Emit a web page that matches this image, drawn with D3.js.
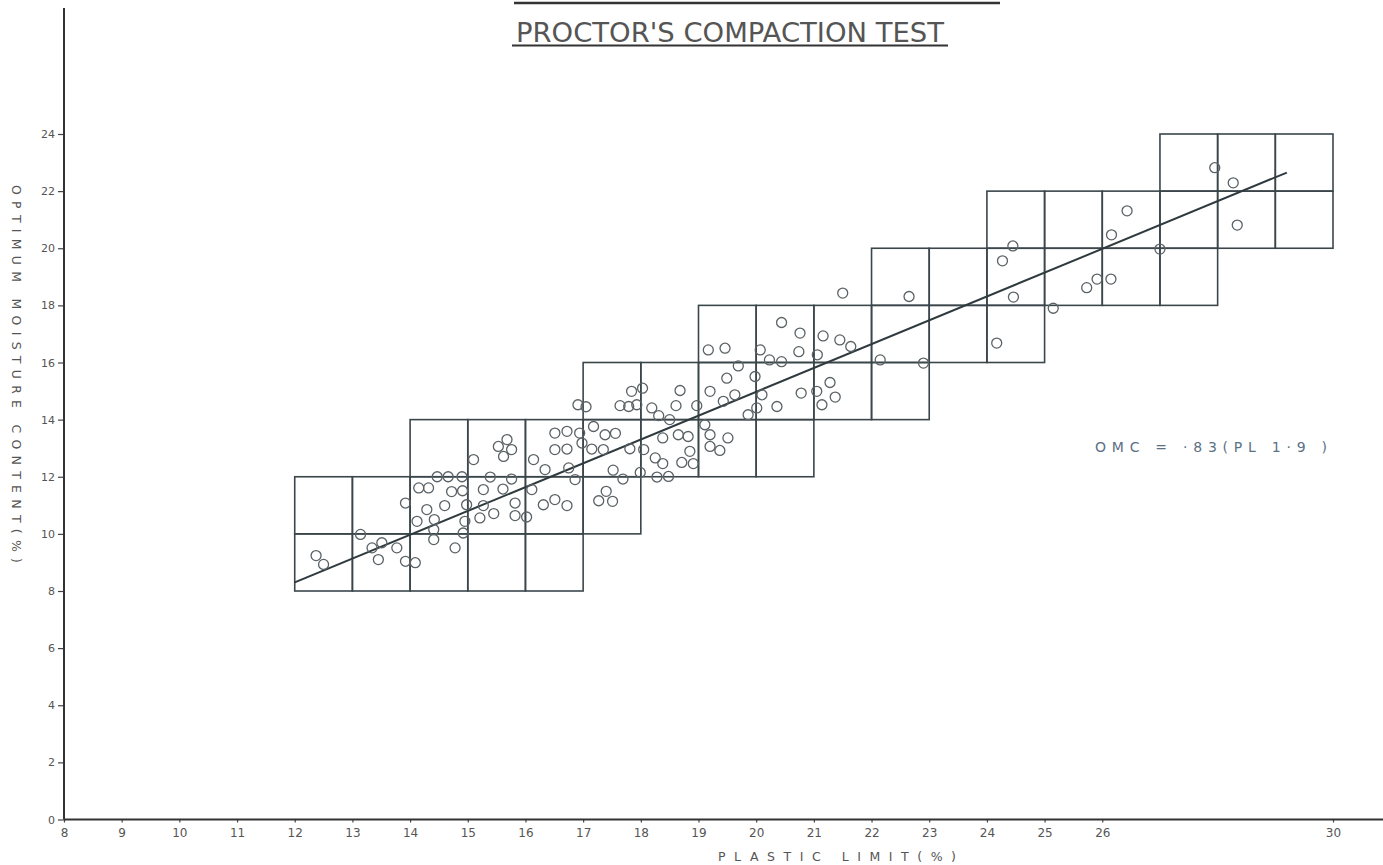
<!DOCTYPE html>
<html>
<head>
<meta charset="utf-8">
<script src="https://cdn.jsdelivr.net/npm/d3@7"></script>
<style>
  html, body { margin: 0; padding: 0; background: #fff; }
  svg { display: block; }
</style>
</head>
<body>
<svg id="chart"></svg>
<script>
// grid columns (plastic limit, 1 unit wide) and the OMC span each one covers
const colPL   = [12, 13, 14, 15, 16, 17, 18, 19, 20, 21, 22, 23, 24, 25, 26, 27, 28, 29];
const colLow  = [ 8,  8,  8,  8,  8, 10, 12, 12, 12, 14, 14, 16, 16, 18, 18, 18, 20, 20];
const colHigh = [12, 12, 14, 14, 14, 16, 16, 18, 18, 18, 20, 20, 22, 22, 22, 24, 24, 24];

// test results: plastic limit (%) and optimum moisture content (%)
const plValues = [
  12.37,12.50,13.14,13.34,13.51,13.45,13.77,13.92,14.09,14.12,13.92,14.15,14.32,14.29,14.42,14.41,14.41,14.47,14.66,14.90,
  14.60,14.72,14.91,14.98,14.95,14.92,14.78,
  15.10,15.39,15.27,15.27,15.21,15.45,15.53,15.68,15.76,15.62,15.76,15.61,15.82,15.82,16.02,16.14,16.11,16.34,16.31,16.51,
  16.72,16.75,16.86,16.51,16.72,16.51,16.72,16.94,16.98,16.91,17.05,17.18,17.38,17.56,17.15,17.35,17.81,17.52,17.69,17.40,
  17.51,17.27,17.64,17.79,17.84,
  18.03,17.93,18.19,18.31,18.50,18.38,17.99,18.25,18.38,18.28,18.48,18.05,18.65,18.82,18.85,18.71,18.91,18.68,18.61,18.97,
  19.11,19.20,19.20,19.37,19.51,19.17,19.46,19.69,19.49,19.98,19.20,19.63,19.43,20.10,20.01,19.86,20.36,20.07,20.23,20.44,
  20.44,20.76,20.74,21.06,21.16,21.45,21.64,21.50,20.78,21.05,21.28,21.37,21.14,
  22.15,22.90,22.65,24.17,24.46,24.27,24.45,25.15,25.73,25.91,26.15,26.16,26.43,27.00,27.95,28.27,28.34
];
const omcValues = [
  9.24,8.93,9.98,9.51,9.69,9.10,9.51,9.04,8.99,10.44,11.08,11.61,11.61,10.85,10.50,10.15,9.80,12.00,12.00,12.00,
  10.99,11.48,11.51,11.02,10.44,10.03,9.51,
  12.60,11.99,11.55,10.99,10.56,10.71,13.06,13.30,12.95,12.71,11.92,11.57,11.08,10.64,10.59,12.60,11.55,12.25,11.02,11.20,
  10.99,12.31,11.90,13.53,13.59,12.95,12.97,13.53,13.18,14.52,14.45,13.76,13.47,13.52,12.97,12.95,12.98,12.23,11.92,11.49,
  11.14,11.16,14.49,14.46,14.99,
  15.10,14.52,14.41,14.14,14.00,13.36,12.15,12.66,12.46,11.99,12.01,12.95,13.47,13.41,12.89,12.50,12.46,15.02,14.49,14.49,
  13.82,13.47,13.06,12.92,13.36,16.44,16.50,15.88,15.45,15.51,14.99,14.87,14.64,14.87,14.41,14.17,14.46,16.44,16.09,16.03,
  17.40,17.03,16.38,16.27,16.93,16.79,16.56,18.43,14.93,14.99,15.30,14.79,14.52,
  16.09,15.98,18.31,16.68,18.29,19.56,20.08,17.90,18.62,18.92,18.92,20.47,21.31,19.97,22.82,22.29,20.81
];

// fitted line end points, OMC = .83(PL - 1.9)
const fitPL  = [12, 29.2];
const fitOMC = [8.3, 22.65];

const xTickValues = [8,9,10,11,12,13,14,15,16,17,18,19,20,21,22,23,24,25,26,30];
const yTickValues = [0,2,4,6,8,10,12,14,16,18,20,22,24];

const W = 1383, H = 865;
const svg = d3.select('#chart').attr('width', W).attr('height', H)
  .style('background', '#fff');

const x = d3.scaleLinear().domain([8, 30]).range([64, 1333]);
const y = d3.scaleLinear().domain([0, 24]).range([819.5, 134]);

const ink = '#3b464b';
const font = '"DejaVu Sans", "Liberation Sans", sans-serif';

// --- title ---
svg.append('line')
  .attr('x1', 514).attr('x2', 1000).attr('y1', 3).attr('y2', 3)
  .attr('stroke', '#333').attr('stroke-width', 2.5);
svg.append('text')
  .attr('x', 516).attr('y', 42)
  .attr('font-family', font).attr('font-size', 27)
  .attr('fill', '#555')
  .attr('textLength', 428).attr('lengthAdjust', 'spacingAndGlyphs')
  .text("PROCTOR'S COMPACTION TEST");
svg.append('line')
  .attr('x1', 512).attr('x2', 948).attr('y1', 45.5).attr('y2', 45.5)
  .attr('stroke', '#333').attr('stroke-width', 2);

// --- grid boxes ---
const cells = [];
colPL.forEach((c, i) => {
  for (let v = colLow[i]; v < colHigh[i]; v += 2) cells.push({ pl: c, omc: v });
});
svg.append('g').selectAll('rect').data(cells).join('rect')
  .attr('x', d => x(d.pl))
  .attr('y', d => y(d.omc + 2))
  .attr('width', d => x(d.pl + 1) - x(d.pl))
  .attr('height', d => y(d.omc) - y(d.omc + 2))
  .attr('fill', 'none')
  .attr('stroke', ink).attr('stroke-width', 1.6);

// --- fitted line ---
svg.append('line')
  .attr('x1', x(fitPL[0])).attr('y1', y(fitOMC[0]))
  .attr('x2', x(fitPL[1])).attr('y2', y(fitOMC[1]))
  .attr('stroke', '#2f3a3e').attr('stroke-width', 2);

// --- points ---
svg.append('g').selectAll('circle').data(plValues).join('circle')
  .attr('cx', (d) => x(d))
  .attr('cy', (d, i) => y(omcValues[i]))
  .attr('r', 5)
  .attr('fill', 'none')
  .attr('stroke', '#5a6266').attr('stroke-width', 1.3);

// --- axes ---
const yAxis = svg.append('g')
  .attr('transform', `translate(${x(8)},0)`)
  .call(d3.axisLeft(y).tickValues(yTickValues).tickSize(6).tickPadding(3)
    .tickFormat(d3.format('d')));
yAxis.select('.domain').remove();
yAxis.selectAll('line').attr('stroke', '#444').attr('stroke-width', 1.2);
yAxis.selectAll('text').attr('font-family', font).attr('font-size', 11).attr('fill', '#555');

const xAxis = svg.append('g')
  .attr('transform', `translate(0,${y(0)})`)
  .call(d3.axisBottom(x).tickValues(xTickValues).tickSize(3).tickPadding(6)
    .tickFormat(d3.format('d')));
xAxis.select('.domain').remove();
xAxis.selectAll('line').attr('stroke', '#444').attr('stroke-width', 1.2);
xAxis.selectAll('text').attr('font-family', font).attr('font-size', 12).attr('fill', '#555');

svg.append('line')
  .attr('x1', x(8)).attr('x2', x(8)).attr('y1', 8).attr('y2', y(0))
  .attr('stroke', '#333').attr('stroke-width', 2);
svg.append('line')
  .attr('x1', x(8)).attr('x2', W).attr('y1', y(0)).attr('y2', y(0))
  .attr('stroke', '#333').attr('stroke-width', 2);

// axis titles
svg.append('text')
  .attr('transform', 'translate(12,374) rotate(90)')
  .attr('text-anchor', 'middle')
  .attr('font-family', font).attr('font-size', 12.5).attr('fill', '#555')
  .attr('textLength', 378).attr('lengthAdjust', 'spacing')
  .text('OPTIMUM  MOISTURE  CONTENT(%)');

svg.append('text')
  .attr('x', 718).attr('y', 861)
  .attr('font-family', font).attr('font-size', 12.5).attr('fill', '#555')
  .attr('textLength', 238).attr('lengthAdjust', 'spacing')
  .text('PLASTIC   LIMIT(%)');

// equation
svg.append('text')
  .attr('x', 1095).attr('y', 452)
  .attr('font-family', font).attr('font-size', 14).attr('fill', '#5b7184')
  .attr('textLength', 232).attr('lengthAdjust', 'spacing')
  .text('OMC = ·83(PL  1·9 )');
</script>
</body>
</html>
